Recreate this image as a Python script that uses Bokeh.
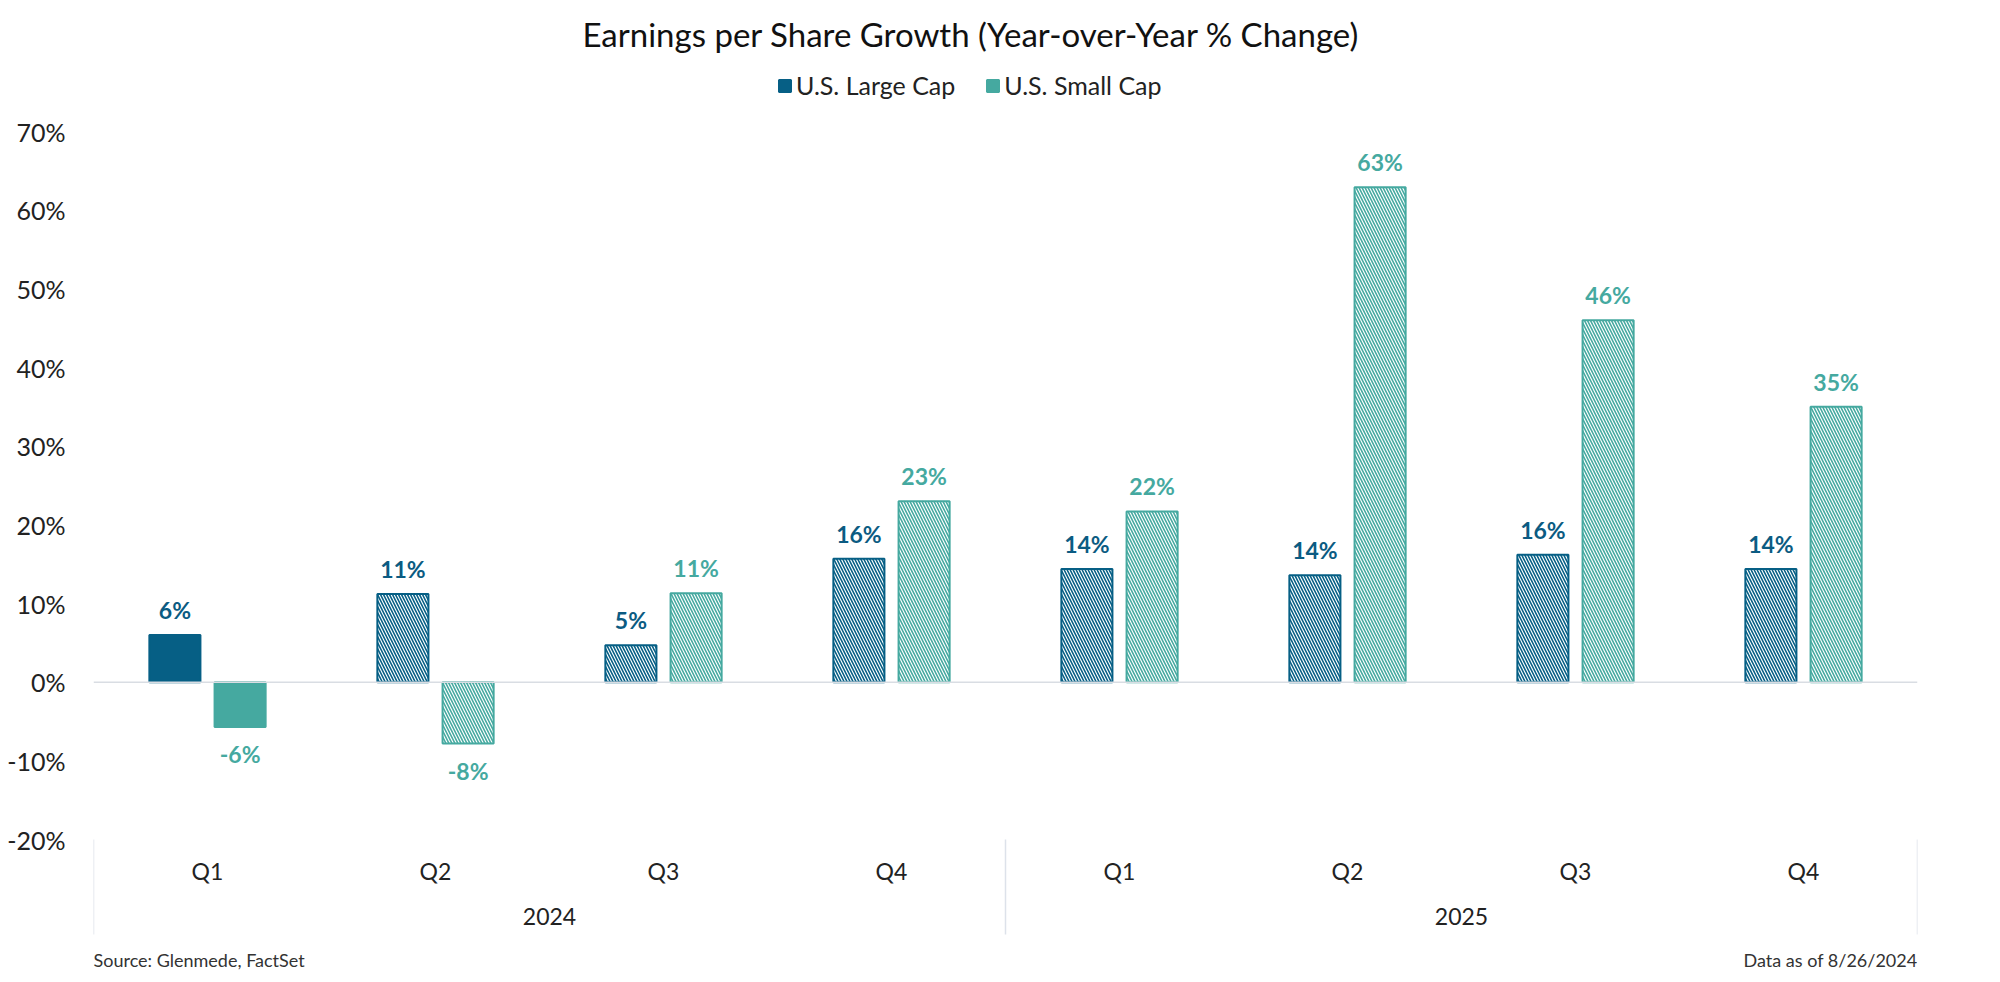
from bokeh.plotting import figure
from bokeh.models import (FactorRange, Range1d, FixedTicker, Span, ColumnDataSource,
                          Legend, LegendItem, Label, PrintfTickFormatter)
from bokeh.transform import dodge
from bokeh.core.properties import value
from bokeh.embed import file_html
from bokeh.resources import INLINE

# ---------------- data ----------------
years = ["2024", "2024", "2024", "2024", "2025", "2025", "2025", "2025"]
quarters = ["Q1", "Q2", "Q3", "Q4", "Q1", "Q2", "Q3", "Q4"]
large_cap = [6.0, 11.2, 4.7, 15.7, 14.4, 13.6, 16.2, 14.4]
small_cap = [-5.7, -7.8, 11.3, 23.0, 21.7, 62.9, 46.0, 35.0]
is_estimate = [False, True, True, True, True, True, True, True]
y_ticks = [-20, -10, 0, 10, 20, 30, 40, 50, 60, 70]
series_names = ["U.S. Large Cap", "U.S. Small Cap"]
title_text = "Earnings per Share Growth (Year-over-Year % Change)"
source_note = "Source: Glenmede, FactSet"
date_note = "Data as of 8/26/2024"

# ---------------- style ----------------
FONT = "Lato"
LARGE = "#065F85"
SMALL = "#45A9A0"
LARGE_TXT = "#0B5B82"
SMALL_TXT = "#45A9A0"
W, H = 1984, 976
FRAME_LEFT, FRAME_RIGHT = 93, 1917
FRAME_TOP, FRAME_BOTTOM = 58, 975            # figure px
TOP70_PX, BOT20_PX, SEP_END_PX = 131, 839, 934
Y_TICK_MAX, Y_TICK_MIN = 70, -20
PX_PER_UNIT = (BOT20_PX - TOP70_PX) / 90.0
Y_MAX = Y_TICK_MAX + (TOP70_PX - FRAME_TOP) / PX_PER_UNIT
Y_MIN = Y_TICK_MAX - (FRAME_BOTTOM - TOP70_PX) / PX_PER_UNIT
Y_SEP_END = Y_TICK_MAX - (SEP_END_PX - TOP70_PX) / PX_PER_UNIT

factors = list(zip(years, quarters))
x_range = FactorRange(factors=factors, range_padding=0, group_padding=0,
                      factor_padding=0, subgroup_padding=0)

p = figure(width=W, height=H, x_range=x_range, y_range=Range1d(Y_MIN, Y_MAX),
           output_backend="svg", toolbar_location=None,
           min_border_left=FRAME_LEFT, min_border_right=W - FRAME_RIGHT,
           min_border_top=FRAME_TOP, min_border_bottom=H - FRAME_BOTTOM)
p.outline_line_color = None
p.xgrid.visible = False
p.ygrid.visible = False
p.xaxis.visible = False
p.background_fill_color = "white"
p.border_fill_color = "white"

# title (centred over chart incl. axis labels)
p.title.text = title_text
p.title.align = "left"
p.title.offset = 582 - FRAME_LEFT
p.title.text_font = FONT
p.title.text_font_size = "33px"
p.title.text_font_style = "normal"
p.title.text_color = "#111111"

# y axis
ya = p.yaxis[0]
ya.ticker = FixedTicker(ticks=y_ticks)
ya.formatter = PrintfTickFormatter(format="%d%%")
ya.axis_line_color = None
ya.major_tick_line_color = None
ya.minor_tick_line_color = None
ya.major_label_text_font = FONT
ya.major_label_text_font_size = "25px"
ya.major_label_text_color = "#222222"
ya.major_label_standoff = 22

# zero line
p.add_layout(Span(location=0, dimension="width", line_color="#d9dde3", line_width=1.5))

# bars
def bar_source(vals, color):
    return ColumnDataSource(dict(
        x=factors, top=vals,
        fill=[("white" if e else color) for e in is_estimate],
        hatch=[("\\" if e else " ") for e in is_estimate],
    ))

OFF, BW = 0.143, 0.224
src_l = bar_source(large_cap, LARGE)
src_s = bar_source(small_cap, SMALL)
r_l = p.vbar(x=dodge("x", -OFF, range=x_range), top="top", bottom=0, width=BW, source=src_l,
             fill_color="fill", line_color=LARGE, line_width=2,
             hatch_pattern="hatch", hatch_color=LARGE, hatch_scale=6, hatch_weight=1.6)
r_s = p.vbar(x=dodge("x", OFF, range=x_range), top="top", bottom=0, width=BW, source=src_s,
             fill_color="fill", line_color=SMALL, line_width=2,
             hatch_pattern="hatch", hatch_color=SMALL, hatch_scale=6, hatch_weight=1.6)

# value labels
def label_source(vals):
    return ColumnDataSource(dict(
        x=factors, y=vals,
        text=[f"{round(v):d}%" for v in vals],
        base=[("bottom" if v >= 0 else "top") for v in vals],
        yoff=[(-11 if v >= 0 else 13) for v in vals],
    ))

for vals, off, col in ((large_cap, -OFF, LARGE_TXT), (small_cap, OFF, SMALL_TXT)):
    p.text(x=dodge("x", off, range=x_range), y="y", text="text", source=label_source(vals),
           text_align="center", text_baseline="base", y_offset="yoff",
           text_font=value(FONT), text_font_style="bold", text_font_size="23px",
           text_color=col)

# category labels (quarters and years)
q_src = ColumnDataSource(dict(x=factors, y=[Y_TICK_MIN] * len(factors), text=quarters))
p.text(x="x", y="y", text="text", source=q_src, y_offset=31,
       text_align="center", text_baseline="middle",
       text_font=value(FONT), text_font_size="23px", text_color="#222222")
uniq_years = list(dict.fromkeys(years))
yr_src = ColumnDataSource(dict(x=uniq_years, y=[Y_TICK_MIN] * len(uniq_years), text=uniq_years))
p.text(x="x", y="y", text="text", source=yr_src, y_offset=77,
       text_align="center", text_baseline="middle",
       text_font=value(FONT), text_font_size="23px", text_color="#222222")

# group separators
n_per_year = len(factors) // len(uniq_years)
seps = [i * n_per_year for i in range(len(uniq_years) + 1)]
p.segment(x0=seps, x1=seps, y0=[Y_TICK_MIN] * len(seps), y1=[Y_SEP_END] * len(seps),
          line_color="#dde2ea", line_width=1.5)

# legend (inside the frame, above the 70% line)
LEG_LEFT, LEG_BOTTOM = 777, 100               # page px
legend = Legend(items=[LegendItem(label=series_names[0], renderers=[r_l], index=0),
                       LegendItem(label=series_names[1], renderers=[r_s], index=0)],
                orientation="horizontal",
                location=(LEG_LEFT - FRAME_LEFT, FRAME_BOTTOM - LEG_BOTTOM))
legend.label_text_font = FONT
legend.label_text_font_size = "25px"
legend.label_text_color = "#222222"
legend.glyph_width = 15
legend.glyph_height = 15
legend.label_standoff = 4
legend.spacing = 30
legend.padding = 0
legend.margin = 0
legend.border_line_color = None
legend.background_fill_alpha = 0
p.add_layout(legend, "center")

# footnotes
foot_y = Y_TICK_MAX - (959 - TOP70_PX) / PX_PER_UNIT
p.add_layout(Label(x=0, y=foot_y, text=source_note, text_align="left", text_baseline="middle",
                   text_font=FONT, text_font_size="18px", text_color="#333333"))
p.add_layout(Label(x=len(factors), y=foot_y, text=date_note, text_align="right",
                   text_baseline="middle", text_font=FONT, text_font_size="18px",
                   text_color="#333333"))

open("out.html", "w").write(file_html(p, INLINE))
